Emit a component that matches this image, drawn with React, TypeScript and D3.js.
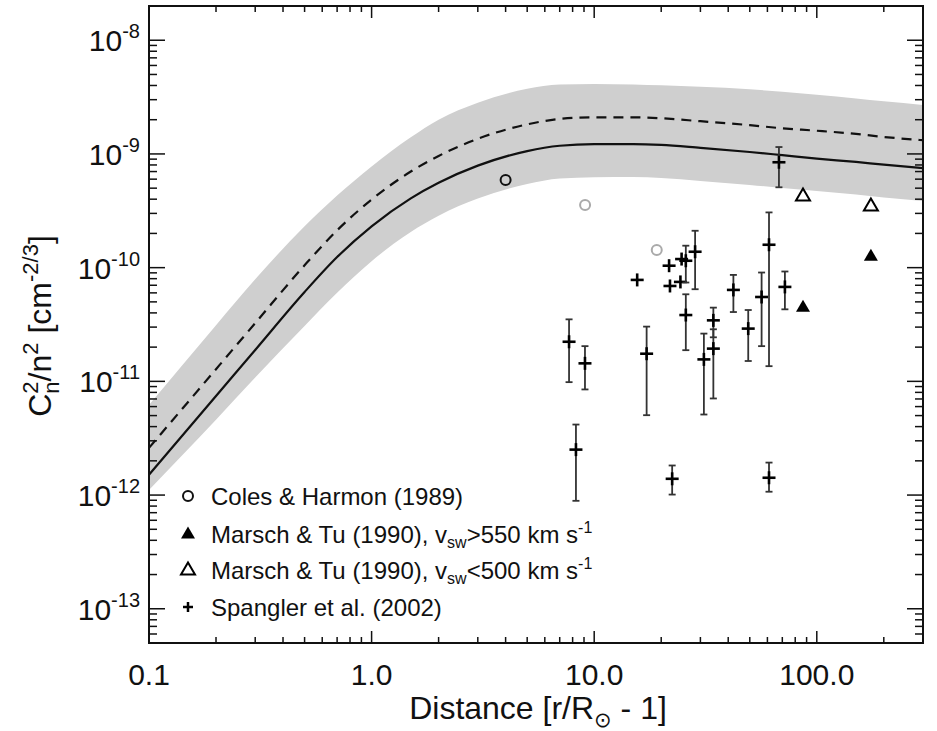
import React from 'react';
import * as d3 from 'd3';

// ---- model curves ----
const modelX = [0.1, 0.2, 0.3, 0.5, 0.7, 1, 1.5, 2, 3, 5, 7, 10, 15, 20, 30, 50, 70, 100, 150, 200, 300];
const modelSolid = [1.51e-12, 7.43e-12, 1.89e-11, 6.11e-11, 1.24e-10, 2.31e-10, 4.07e-10, 5.58e-10, 7.89e-10, 1.06e-9, 1.18e-9, 1.22e-9, 1.22e-9, 1.2e-9, 1.13e-9, 1.04e-9, 9.75e-10, 9.1e-10, 8.5e-10, 8.05e-10, 7.5e-10];
const modelDashed = [2.6e-12, 1.28e-11, 3.25e-11, 1.05e-10, 2.13e-10, 3.97e-10, 7.0e-10, 9.6e-10, 1.36e-9, 1.82e-9, 2.03e-9, 2.1e-9, 2.1e-9, 2.06e-9, 1.94e-9, 1.79e-9, 1.68e-9, 1.6e-9, 1.5e-9, 1.41e-9, 1.32e-9];
const bandUpper = [6.2e-12, 3.12e-11, 7.9e-11, 2.31e-10, 4.3e-10, 7.76e-10, 1.4e-9, 2.0e-9, 2.82e-9, 3.74e-9, 4.07e-9, 4.12e-9, 4.08e-9, 4.01e-9, 3.89e-9, 3.7e-9, 3.52e-9, 3.31e-9, 3.08e-9, 2.9e-9, 2.7e-9];
const bandLower = [1.11e-12, 4.59e-12, 1.08e-11, 3.07e-11, 6.01e-11, 1.14e-10, 2.06e-10, 2.86e-10, 4.05e-10, 5.45e-10, 6.08e-10, 6.25e-10, 6.27e-10, 6.14e-10, 5.78e-10, 5.33e-10, 5.02e-10, 4.72e-10, 4.4e-10, 4.14e-10, 3.85e-10];

// ---- observations ----
const colesX = [4.0, 9.1, 19.1];
const colesY = [5.9e-10, 3.55e-10, 1.43e-10];
const colesDark = [true, false, false];

const marschFastX = [86.7, 175];
const marschFastY = [4.48e-11, 1.26e-10];
const marschSlowX = [86.7, 175];
const marschSlowY = [4.26e-10, 3.48e-10];

const spanglerX = [7.71, 9.09, 8.28, 17.2, 25.8, 31.1, 34.3, 34.3, 49.2, 42.2, 56.5, 61.0, 71.9, 67.6, 61.0, 22.4, 15.6, 21.7, 21.9, 24.7, 24.4, 25.8, 28.4];
const spanglerY = [2.23e-11, 1.44e-11, 2.51e-12, 1.75e-11, 3.83e-11, 1.56e-11, 3.44e-11, 1.94e-11, 2.91e-11, 6.37e-11, 5.52e-11, 1.59e-10, 6.77e-11, 8.45e-10, 1.42e-12, 1.39e-12, 7.8e-11, 1.04e-10, 6.9e-11, 1.19e-10, 7.49e-11, 1.15e-10, 1.38e-10];
const spanglerLo: (number | null)[] = [9.84e-12, 8.49e-12, 8.9e-13, 5.04e-12, 1.88e-11, 5.11e-12, 2.44e-11, 7.07e-12, 1.51e-11, 4.07e-11, 2.04e-11, 1.36e-11, 4.3e-11, 5.09e-10, 1.07e-12, 1.01e-12, null, null, null, null, null, 7.4e-11, 6.46e-11];
const spanglerHi: (number | null)[] = [3.51e-11, 2.04e-11, 4.17e-12, 3.03e-11, 5.83e-11, 2.63e-11, 4.45e-11, 2.87e-11, 4.24e-11, 8.63e-11, 9.06e-11, 3.06e-10, 9.25e-11, 1.15e-9, 1.93e-12, 1.82e-12, null, null, null, null, null, 1.56e-10, 2.11e-10];

// ---- axes ----
const xTickValues = [0.1, 1, 10, 100];
const xTickLabels = ['0.1', '1.0', '10.0', '100.0'];
const yTickValues = [1e-8, 1e-9, 1e-10, 1e-11, 1e-12, 1e-13];
const yTickExponents = ['-8', '-9', '-10', '-11', '-12', '-13'];

const legendLabels = ['Coles & Harmon (1989)', 'Marsch & Tu (1990), v', 'Marsch & Tu (1990), v', 'Spangler et al. (2002)'];

const W = 937, H = 731;
const L = 149, R = 923, T = 6, B = 643;
const FONT = '"Liberation Sans", Arial, sans-serif';

export default function App() {
  const x = d3.scaleLog().domain([0.1, 300]).range([L, R]);
  const y = d3.scaleLog().domain([5e-14, 2e-8]).range([B, T]);

  const pts = modelX.map((v, i) => ({ x: v, s: modelSolid[i], d: modelDashed[i], u: bandUpper[i], l: bandLower[i] }));
  const area = d3.area<any>().x(d => x(d.x)).y0(d => y(d.l)).y1(d => y(d.u)).curve(d3.curveMonotoneX);
  const lineS = d3.line<any>().x(d => x(d.x)).y(d => y(d.s)).curve(d3.curveMonotoneX);
  const lineD = d3.line<any>().x(d => x(d.x)).y(d => y(d.d)).curve(d3.curveMonotoneX);

  const xMinor = x.ticks().filter(t => t >= 0.1 && t <= 300);
  const yMinor = y.ticks();
  const isDecade = (t: number) => Math.abs(Math.log10(t) - Math.round(Math.log10(t))) < 1e-6;

  const tri = (cx: number, cy: number) => `M${cx},${cy - 7.5}L${cx + 7},${cy + 4.5}L${cx - 7},${cy + 4.5}Z`;

  return (
    <svg width={W} height={H} style={{ position: 'absolute', left: 0, top: 0, background: '#fff' }} fontFamily={FONT}>
      <defs>
        <clipPath id="plot"><rect x={L} y={T} width={R - L} height={B - T} /></clipPath>
      </defs>
      <g clipPath="url(#plot)">
        <path d={area(pts) || ''} fill="#cfcfcf" />
        <path d={lineD(pts) || ''} fill="none" stroke="#111" strokeWidth={2.2} strokeDasharray="10,7" />
        <path d={lineS(pts) || ''} fill="none" stroke="#111" strokeWidth={2.2} />
      </g>

      {/* Spangler error bars and pluses */}
      {spanglerX.map((v, i) => {
        const cx = x(v), cy = y(spanglerY[i]);
        const lo = spanglerLo[i], hi = spanglerHi[i];
        return (
          <g key={'sp' + i}>
            {lo !== null && hi !== null && (
              <g stroke="#333" strokeWidth={1.8}>
                <line x1={cx} x2={cx} y1={y(lo)} y2={y(hi)} />
                <line x1={cx - 3.5} x2={cx + 3.5} y1={y(lo)} y2={y(lo)} />
                <line x1={cx - 3.5} x2={cx + 3.5} y1={y(hi)} y2={y(hi)} />
              </g>
            )}
            <g stroke="#000" strokeWidth={2.6}>
              <line x1={cx - 6.5} x2={cx + 6.5} y1={cy} y2={cy} />
              <line x1={cx} x2={cx} y1={cy - 6.5} y2={cy + 6.5} />
            </g>
          </g>
        );
      })}

      {colesX.map((v, i) => (
        <circle key={'c' + i} cx={x(v)} cy={y(colesY[i])} r={5} fill="none" stroke={colesDark[i] ? '#111' : '#aaa'} strokeWidth={2} />
      ))}
      {marschFastX.map((v, i) => (
        <path key={'mf' + i} d={tri(x(v), y(marschFastY[i]))} fill="#000" />
      ))}
      {marschSlowX.map((v, i) => (
        <path key={'ms' + i} d={tri(x(v), y(marschSlowY[i]))} fill="#fff" stroke="#000" strokeWidth={2} />
      ))}

      {/* frame */}
      <rect x={L} y={T} width={R - L} height={B - T} fill="none" stroke="#111" strokeWidth={2} />

      {/* x ticks */}
      {xMinor.map((t, i) => {
        const len = isDecade(t) ? 12 : 6;
        const px = x(t);
        return (
          <g key={'xt' + i} stroke="#111" strokeWidth={1.5}>
            <line x1={px} x2={px} y1={B} y2={B - len} />
            <line x1={px} x2={px} y1={T} y2={T + len} />
          </g>
        );
      })}
      {/* y ticks */}
      {yMinor.map((t, i) => {
        const len = isDecade(t) ? 16 : 8;
        const py = y(t);
        return (
          <g key={'yt' + i} stroke="#111" strokeWidth={1.5}>
            <line x1={L} x2={L + len} y1={py} y2={py} />
            <line x1={R} x2={R - len} y1={py} y2={py} />
          </g>
        );
      })}

      {/* x labels */}
      {xTickValues.map((t, i) => (
        <text key={'xl' + i} x={x(t)} y={685} textAnchor="middle" fontSize={30} fill="#111">{xTickLabels[i]}</text>
      ))}
      {/* y labels */}
      {yTickValues.map((t, i) => (
        <text key={'yl' + i} x={140} y={y(t) + 11} textAnchor="end" fontSize={30} fill="#111">
          10<tspan fontSize={20} dy={-13}>{yTickExponents[i]}</tspan>
        </text>
      ))}

      {/* axis titles */}
      <text x={538} y={719} textAnchor="middle" fontSize={32} fill="#111">
        Distance [r/R<tspan fontSize={21} dy={8} fontFamily='"DejaVu Sans", sans-serif'>⊙</tspan><tspan dy={-8}> - 1]</tspan>
      </text>
      <g transform="translate(51,326) rotate(-90)">
        <text x={0} y={0} textAnchor="middle" fontSize={32} fill="#111">
          C<tspan fontSize={22} dy={-13}>2</tspan><tspan fontSize={22} dx={-12.2} dy={21}>n</tspan><tspan dy={-8}>/n</tspan><tspan fontSize={22} dy={-13}>2</tspan><tspan dy={13}> [cm</tspan><tspan fontSize={22} dy={-13}>-2/3</tspan><tspan dy={13}>]</tspan>
        </text>
      </g>

      {/* legend */}
      {[496, 534, 570, 607].map((cy, i) => {
        const mx = 188;
        let marker;
        if (i === 0) marker = <circle cx={mx} cy={cy} r={5} fill="none" stroke="#111" strokeWidth={2} />;
        else if (i === 1) marker = <path d={tri(mx, cy)} fill="#000" />;
        else if (i === 2) marker = <path d={tri(mx, cy)} fill="#fff" stroke="#000" strokeWidth={2} />;
        else marker = (
          <g stroke="#000" strokeWidth={2.5}>
            <line x1={mx - 5} x2={mx + 5} y1={cy} y2={cy} />
            <line x1={mx} x2={mx} y1={cy - 5} y2={cy + 5} />
          </g>
        );
        return (
          <g key={'lg' + i}>
            {marker}
            <text x={211} y={cy + 8.5} fontSize={24} fill="#111">
              {legendLabels[i]}
              {i === 1 && (<><tspan fontSize={16} dy={5}>sw</tspan><tspan dy={-5}>&gt;550 km s</tspan><tspan fontSize={16} dy={-10}>-1</tspan></>)}
              {i === 2 && (<><tspan fontSize={16} dy={5}>sw</tspan><tspan dy={-5}>&lt;500 km s</tspan><tspan fontSize={16} dy={-10}>-1</tspan></>)}
            </text>
          </g>
        );
      })}
    </svg>
  );
}
